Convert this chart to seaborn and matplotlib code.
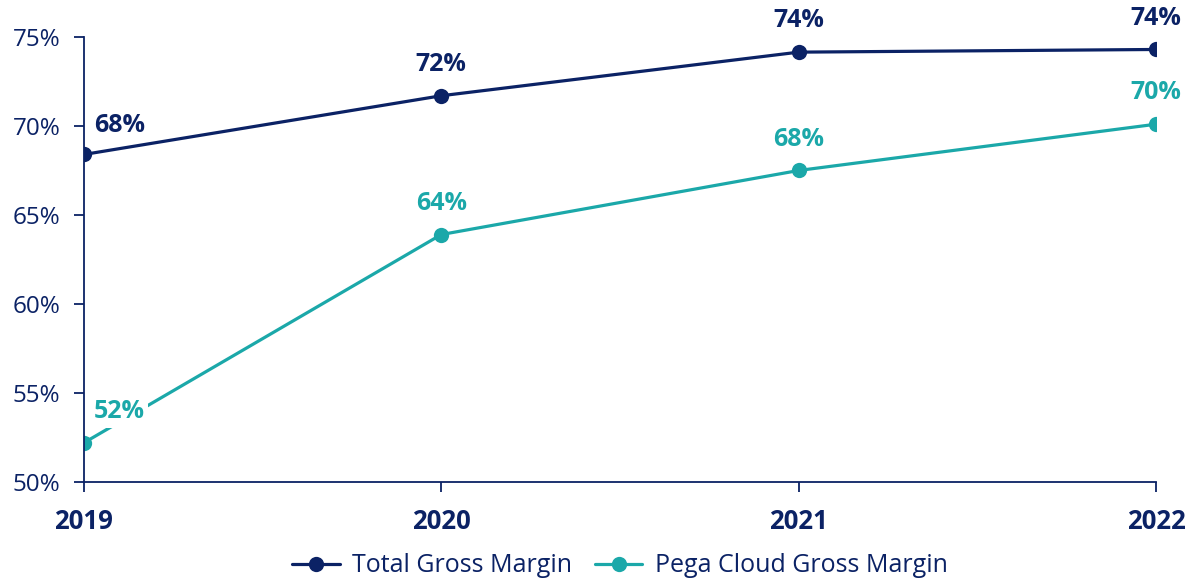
import pandas as pd
import matplotlib.pyplot as plt
import seaborn as sns

years = [2019, 2020, 2021, 2022]
total_margin = [68.4, 71.7, 74.15, 74.3]
cloud_margin = [52.2, 63.9, 67.5, 70.1]
total_labels = ['68%', '72%', '74%', '74%']
cloud_labels = ['52%', '64%', '68%', '70%']
series_names = ['Total Gross Margin', 'Pega Cloud Gross Margin']
y_ticks = [50, 55, 60, 65, 70, 75]

navy = '#0b2265'
teal = '#1ba8a9'

df = pd.DataFrame({
    'year': years * 2,
    'margin': total_margin + cloud_margin,
    'series': [series_names[0]] * 4 + [series_names[1]] * 4,
})

sns.set_style('white')
plt.rcParams['font.family'] = ['Open Sans', 'DejaVu Sans']

fig = plt.figure(figsize=(11.91, 5.82), dpi=100)
ax = fig.add_axes([0.0705, 0.172, 0.9001, 0.7644])

sns.lineplot(data=df, x='year', y='margin', hue='series',
             palette=[navy, teal], marker='o', markersize=11,
             markeredgewidth=0, linewidth=2.3, ax=ax)

ax.set_xlim(years[0], years[-1])
ax.set_ylim(50, 75)
ax.set_xticks(years)
ax.set_xticklabels([str(y) for y in years], fontsize=18.5, fontweight='bold', color=navy)
ax.set_yticks(y_ticks)
ax.set_yticklabels([f'{v}%' for v in y_ticks], fontsize=17.5, color=navy)
ax.tick_params(axis='both', direction='out', length=7, width=1.3, color=navy,
               bottom=True, left=True)
ax.tick_params(axis='y', pad=10)
ax.tick_params(axis='x', pad=12)
ax.set_xlabel('')
ax.set_ylabel('')
for side in ['top', 'right']:
    ax.spines[side].set_visible(False)
for side in ['left', 'bottom']:
    ax.spines[side].set_color(navy)
    ax.spines[side].set_linewidth(1.3)

# value labels
for i, (x, y, lab) in enumerate(zip(years, total_margin, total_labels)):
    if i == 0:
        ax.annotate(lab, (x, y), xytext=(7, 21), textcoords='offset points',
                    ha='left', va='center', fontsize=18, fontweight='bold', color=navy)
    else:
        ax.annotate(lab, (x, y), xytext=(0, 22.5), textcoords='offset points',
                    ha='center', va='center', fontsize=18, fontweight='bold', color=navy)
for i, (x, y, lab) in enumerate(zip(years, cloud_margin, cloud_labels)):
    if i == 0:
        ax.annotate(lab, (x, y), xytext=(7, 22.5), textcoords='offset points',
                    ha='left', va='center', fontsize=18, fontweight='bold', color=teal,
                    bbox=dict(boxstyle='square,pad=0.15', fc='white', ec='none'))
    else:
        ax.annotate(lab, (x, y), xytext=(0, 22.5), textcoords='offset points',
                    ha='center', va='center', fontsize=18, fontweight='bold', color=teal)

leg = ax.legend(loc='upper center', bbox_to_anchor=(0.5, -0.11), ncol=2,
                frameon=False, fontsize=18, handlelength=1.9, columnspacing=0.9,
                handletextpad=0.5)
for t in leg.get_texts():
    t.set_color(navy)

fig.savefig('out.png', dpi=100, facecolor='white')
